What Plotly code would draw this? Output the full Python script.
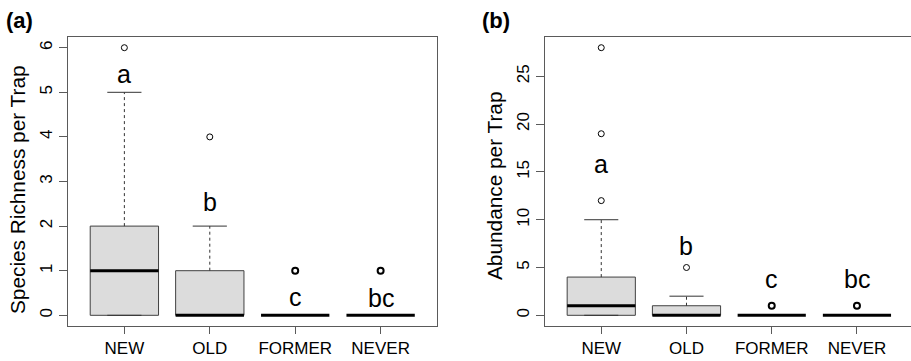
import plotly.graph_objects as go

categories = ["NEW", "OLD", "FORMER", "NEVER"]

# Panel (a): Species richness per trap (box-plot statistics)
rich_lower = [0, 0, 0, 0]
rich_q1 = [0, 0, 0, 0]
rich_median = [1, 0, 0, 0]
rich_q3 = [2, 1, 0, 0]
rich_upper = [5, 2, 0, 0]
rich_outliers = [[6], [4], [1], [1]]
rich_letters = ["a", "b", "c", "bc"]
rich_letter_y = [5.4, 2.55, 0.4, 0.38]
rich_yticks = [0, 1, 2, 3, 4, 5, 6]

# Panel (b): Abundance per trap
abund_lower = [0, 0, 0, 0]
abund_q1 = [0, 0, 0, 0]
abund_median = [1, 0, 0, 0]
abund_q3 = [4, 1, 0, 0]
abund_upper = [10, 2, 0, 0]
abund_outliers = [[12, 19, 28], [5], [1], [1]]
abund_letters = ["a", "b", "c", "bc"]
abund_letter_y = [15.8, 7.3, 3.8, 3.8]
abund_yticks = [0, 5, 10, 15, 20, 25]

FONT = "Liberation Sans, Arial, sans-serif"
BOX_FILL = "#dcdcdc"
BOX_LINE = "#404040"
AXIS_COL = "#5a5a5a"
BOX_HALF = 0.4
CAP_HALF = 0.2

fig = go.Figure()


def line(xs, ys, xa, ya, width=1, color="black", dash="solid"):
    fig.add_trace(go.Scatter(x=xs, y=ys, mode="lines", xaxis=xa, yaxis=ya,
                             line=dict(color=color, width=width, dash=dash),
                             hoverinfo="skip", showlegend=False))


def add_panel(xa, ya, lower, q1, med, q3, upper, outliers, letters, letter_y):
    for i in range(len(categories)):
        c = i + 1
        # box
        if q3[i] > q1[i]:
            fig.add_trace(go.Scatter(
                x=[c - BOX_HALF, c + BOX_HALF, c + BOX_HALF, c - BOX_HALF, c - BOX_HALF],
                y=[q1[i], q1[i], q3[i], q3[i], q1[i]],
                mode="lines", fill="toself", fillcolor=BOX_FILL,
                line=dict(color=BOX_LINE, width=1), xaxis=xa, yaxis=ya,
                hoverinfo="skip", showlegend=False))
        # whiskers
        if upper[i] > q3[i]:
            line([c, c], [q3[i], upper[i]], xa, ya, 1, "#333333", "3px,3px")
        if lower[i] < q1[i]:
            line([c, c], [lower[i], q1[i]], xa, ya, 1, "#333333", "3px,3px")
        # caps
        line([c - CAP_HALF, c + CAP_HALF], [upper[i], upper[i]], xa, ya, 1, "#333333")
        line([c - CAP_HALF, c + CAP_HALF], [lower[i], lower[i]], xa, ya, 1, "#333333")
        # median
        line([c - BOX_HALF, c + BOX_HALF], [med[i], med[i]], xa, ya, 3, "black")
        # outliers
        heavy = 2 if q3[i] == q1[i] else 1
        fig.add_trace(go.Scatter(
            x=[c] * len(outliers[i]), y=outliers[i], mode="markers",
            marker=dict(symbol="circle-open", size=6, color="black",
                        line=dict(width=heavy, color="black")),
            xaxis=xa, yaxis=ya, hoverinfo="skip", showlegend=False))
        # letters
        fig.add_annotation(x=c, y=letter_y[i], xref=xa, yref=ya, text=letters[i],
                           showarrow=False, font=dict(size=25, color="black", family=FONT),
                           xanchor="center", yanchor="middle")


add_panel("x", "y", rich_lower, rich_q1, rich_median, rich_q3, rich_upper,
          rich_outliers, rich_letters, rich_letter_y)
add_panel("x2", "y2", abund_lower, abund_q1, abund_median, abund_q3, abund_upper,
          abund_outliers, abund_letters, abund_letter_y)

W, H = 911, 361
ydom = [35 / H, 324 / H]

common_x = dict(tickvals=[1, 2, 3, 4], ticktext=categories, ticks="outside", ticklen=7,
                tickcolor=AXIS_COL, showline=True, linecolor=AXIS_COL, linewidth=1,
                mirror=True, showgrid=False, zeroline=False,
                tickfont=dict(size=17, family=FONT, color="black"))
common_y = dict(ticks="outside", ticklen=8, tickcolor=AXIS_COL, showline=True,
                linecolor=AXIS_COL, linewidth=1, showgrid=False, zeroline=False,
                tickangle=-90, tickfont=dict(size=17, family=FONT, color="black"))

fig.update_layout(
    width=W, height=H, margin=dict(l=0, r=0, t=0, b=0),
    plot_bgcolor="white", paper_bgcolor="white", showlegend=False,
    xaxis=dict(domain=[68 / W, 437 / W], range=[0.34, 4.66], anchor="y", **common_x),
    yaxis=dict(domain=ydom, range=[-0.24, 6.24], tickvals=rich_yticks, anchor="x",
               mirror=True, **common_y),
    xaxis2=dict(domain=[545 / W, 1.0], range=[0.34, 4.634], anchor="y2", **common_x),
    yaxis2=dict(domain=ydom, range=[-1.12, 29.12], tickvals=abund_yticks, anchor="x2",
                mirror=False, **common_y),
)

# Axis titles
fig.add_annotation(x=17 / W, y=(H - 190) / H, xref="paper", yref="paper",
                   text="Species Richness per Trap", textangle=-90, showarrow=False,
                   font=dict(size=20.8, family=FONT, color="black"),
                   xanchor="center", yanchor="middle")
fig.add_annotation(x=494 / W, y=(H - 186) / H, xref="paper", yref="paper",
                   text="Abundance per Trap", textangle=-90, showarrow=False,
                   font=dict(size=20.8, family=FONT, color="black"),
                   xanchor="center", yanchor="middle")

# Panel labels
fig.add_annotation(x=4 / W, y=1 - 20 / H, xref="paper", yref="paper", text="<b>(a)</b>",
                   showarrow=False, font=dict(size=22, family=FONT, color="black"),
                   xanchor="left", yanchor="middle")
fig.add_annotation(x=480 / W, y=1 - 20 / H, xref="paper", yref="paper", text="<b>(b)</b>",
                   showarrow=False, font=dict(size=22, family=FONT, color="black"),
                   xanchor="left", yanchor="middle")

fig.write_html("out.html", config={"displayModeBar": False},
               post_script="document.body.style.margin='0';document.body.style.overflow='hidden';")
